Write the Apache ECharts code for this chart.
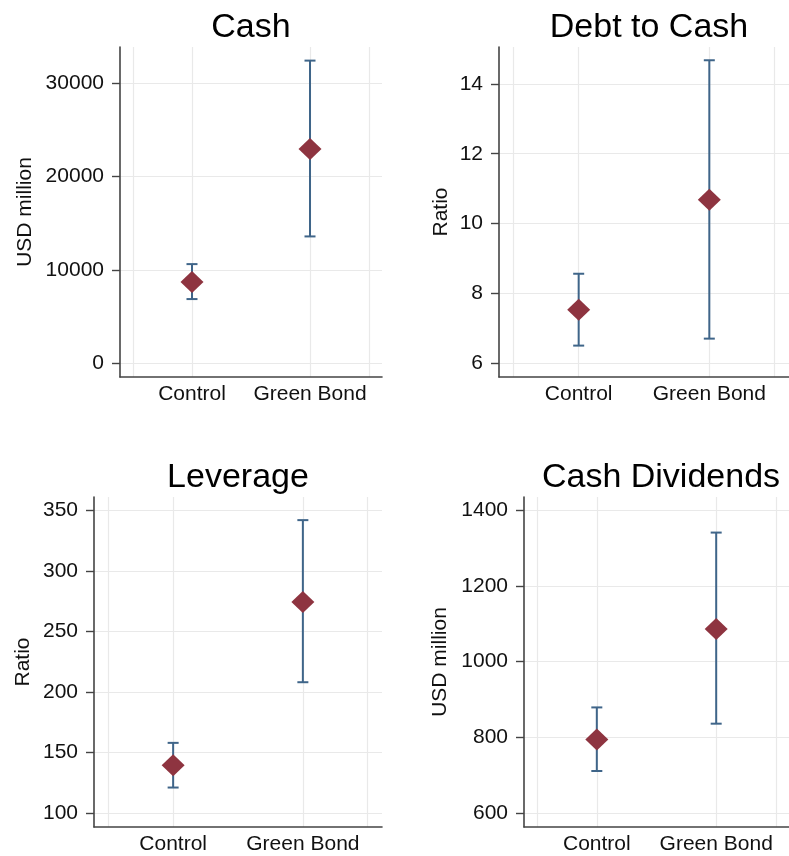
<!DOCTYPE html>
<html>
<head>
<meta charset="utf-8">
<script src="https://cdn.jsdelivr.net/npm/echarts@6/dist/echarts.min.js"></script>
<style>
html,body{margin:0;padding:0;background:#fff;}
#chart{width:789px;height:856px;}
</style>
</head>
<body>
<div id="chart"></div>
<script>
// ---- data ----
var categories = ['Control', 'Green Bond'];
var categoryPositions = [1, 2];
var xGridPositions = [0.5, 1, 2, 2.5];

var panelTitles = ['Cash', 'Debt to Cash', 'Leverage', 'Cash Dividends'];
var yAxisNames = ['USD million', 'Ratio', 'Ratio', 'USD million'];

var cashMean = [8700, 22970];
var cashLow = [6860, 13580];
var cashHigh = [10610, 32440];
var cashTicks = [0, 10000, 20000, 30000];

var debtMean = [7.53, 10.68];
var debtLow = [6.50, 6.70];
var debtHigh = [8.56, 14.68];
var debtTicks = [6, 8, 10, 12, 14];

var levMean = [139.4, 274.3];
var levLow = [121, 208];
var levHigh = [157.9, 341.9];
var levTicks = [100, 150, 200, 250, 300, 350];

var divMean = [794, 1086];
var divLow = [711, 836];
var divHigh = [879, 1341];
var divTicks = [600, 800, 1000, 1200, 1400];

// ---- layout / style ----
var FONT = '"Liberation Sans", Arial, sans-serif';
var markerColor = '#8E3440';
var errColor = '#3F6589';
var axisColor = '#444444';
var gridColor = '#E9E9E9';
var textColor = '#111111';

var panels = [
  {mean: cashMean, low: cashLow, high: cashHigh, ticks: cashTicks, ymin: -1500, ymax: 33900,
   grid: {left: 120, top: 47, width: 262, height: 330}, nameGap: 84, titleX: 251, titleY: 28},
  {mean: debtMean, low: debtLow, high: debtHigh, ticks: debtTicks, ymin: 5.6, ymax: 15.06,
   grid: {left: 499, top: 47, width: 300, height: 330}, nameGap: 47, titleX: 649, titleY: 28},
  {mean: levMean, low: levLow, high: levHigh, ticks: levTicks, ymin: 88.4, ymax: 361,
   grid: {left: 94, top: 497, width: 288, height: 330}, nameGap: 60, titleX: 238, titleY: 478},
  {mean: divMean, low: divLow, high: divHigh, ticks: divTicks, ymin: 563, ymax: 1435,
   grid: {left: 524, top: 497, width: 275, height: 330}, nameGap: 73, titleX: 661, titleY: 478}
];

var grids = [], xAxes = [], yAxes = [], series = [], graphics = [];

function renderErr(params, api) {
  var x = api.value(0), lo = api.value(1), hi = api.value(2);
  var pLo = api.coord([x, lo]);
  var pHi = api.coord([x, hi]);
  var hw = 5.5;
  var st = {stroke: errColor, lineWidth: 2, fill: null};
  return {
    type: 'group',
    children: [
      {type: 'line', shape: {x1: pLo[0], y1: pLo[1], x2: pHi[0], y2: pHi[1]}, style: st},
      {type: 'line', shape: {x1: pLo[0] - hw, y1: pLo[1], x2: pLo[0] + hw, y2: pLo[1]}, style: st},
      {type: 'line', shape: {x1: pHi[0] - hw, y1: pHi[1], x2: pHi[0] + hw, y2: pHi[1]}, style: st}
    ]
  };
}

panels.forEach(function (p, i) {
  grids.push(Object.assign({containLabel: false}, p.grid));
  xAxes.push({
    gridIndex: i, type: 'value', min: 0.39, max: 2.61,
    axisLine: {show: true, onZero: false, lineStyle: {color: axisColor, width: 1.6}},
    axisTick: {show: false, customValues: xGridPositions},
    axisLabel: {
      customValues: categoryPositions, margin: 7,
      fontFamily: FONT, fontSize: 21, color: textColor,
      formatter: function (v) { var k = categoryPositions.indexOf(v); return k >= 0 ? categories[k] : ''; }
    },
    splitLine: {show: true, lineStyle: {color: gridColor, width: 1.2}}
  });
  yAxes.push({
    gridIndex: i, type: 'value', min: p.ymin, max: p.ymax,
    name: yAxisNames[i], nameLocation: 'middle', nameGap: p.nameGap, nameRotate: 90,
    nameTextStyle: {fontFamily: FONT, fontSize: 21, color: textColor},
    axisLine: {show: true, onZero: false, lineStyle: {color: axisColor, width: 1.6}},
    axisTick: {show: true, length: 8, customValues: p.ticks, lineStyle: {color: axisColor, width: 1.4}},
    axisLabel: {customValues: p.ticks, margin: 16, fontFamily: FONT, fontSize: 21, color: textColor,
      formatter: function (v) { return String(v); }},
    splitLine: {show: true, lineStyle: {color: gridColor, width: 1.2}}
  });
  var errData = categoryPositions.map(function (x, k) { return [x, p.low[k], p.high[k]]; });
  var ptData = categoryPositions.map(function (x, k) { return [x, p.mean[k]]; });
  series.push({
    type: 'custom', xAxisIndex: i, yAxisIndex: i,
    renderItem: renderErr, data: errData, encode: {x: 0, y: [1, 2]}, z: 2, silent: true
  });
  series.push({
    type: 'scatter', xAxisIndex: i, yAxisIndex: i, data: ptData,
    symbol: 'diamond', symbolSize: [23, 22], itemStyle: {color: markerColor, opacity: 1}, z: 3, silent: true
  });
  graphics.push({
    type: 'text', x: p.titleX, y: p.titleY,
    style: {text: panelTitles[i], font: '34px ' + FONT, fill: '#000', textAlign: 'center', textVerticalAlign: 'middle'}
  });
});

var chart = echarts.init(document.getElementById('chart'), null, {renderer: 'canvas'});
chart.setOption({
  animation: false,
  backgroundColor: '#ffffff',
  grid: grids,
  xAxis: xAxes,
  yAxis: yAxes,
  series: series,
  graphic: graphics
});
</script>
</body>
</html>
